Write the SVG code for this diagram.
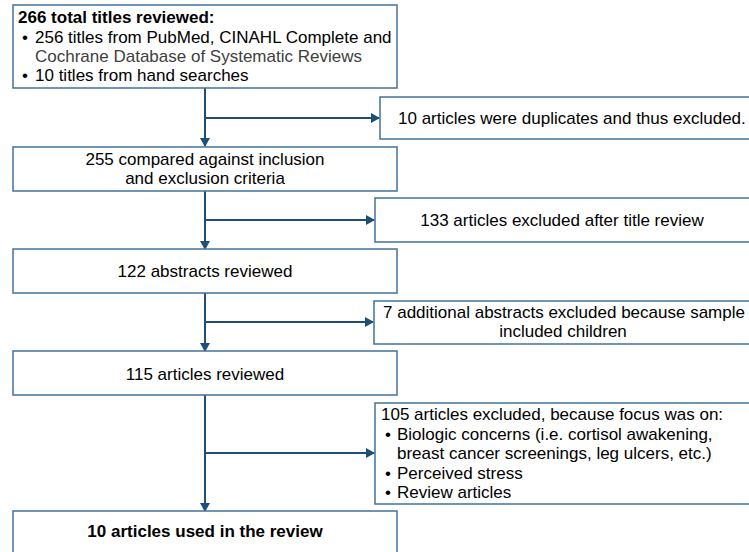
<svg xmlns="http://www.w3.org/2000/svg" width="749" height="552" viewBox="0 0 749 552">
<defs>
<style>
.box{fill:#ffffff;stroke:#41719c;stroke-width:1.5}
.t{font-family:"Liberation Sans",Arial,sans-serif;font-size:17px;fill:#000}
.c{text-anchor:middle}
.b{font-weight:bold}
.g{fill:#404040}
.con{stroke:#1f4e79;stroke-width:2;fill:none}
</style>
<marker id="ah" markerWidth="10" markerHeight="10" refX="8" refY="5" orient="auto" markerUnits="userSpaceOnUse">
<path d="M0,0 L9,5 L0,10 Z" fill="#1f4e79"/>
</marker>
</defs>
<rect width="749" height="552" fill="#ffffff"/>
<g id="connectors">
<line class="con" x1="205" y1="88" x2="205" y2="146" marker-end="url(#ah)"/>
<line class="con" x1="205" y1="118" x2="379" y2="118" marker-end="url(#ah)"/>
<line class="con" x1="205" y1="191" x2="205" y2="249" marker-end="url(#ah)"/>
<line class="con" x1="205" y1="220" x2="374" y2="220" marker-end="url(#ah)"/>
<line class="con" x1="205" y1="293" x2="205" y2="351" marker-end="url(#ah)"/>
<line class="con" x1="205" y1="322" x2="373" y2="322" marker-end="url(#ah)"/>
<line class="con" x1="205" y1="395" x2="205" y2="511" marker-end="url(#ah)"/>
<line class="con" x1="205" y1="453" x2="374" y2="453" marker-end="url(#ah)"/>
</g>
<g id="n1">
<rect class="box" x="13" y="5" width="384" height="83"/>
<text class="t b" x="18" y="23">266 total titles reviewed:</text>
<text class="t" x="22" y="43">•<tspan x="35">256 titles from PubMed, CINAHL Complete and</tspan></text>
<text class="t g" x="35" y="62">Cochrane Database of Systematic Reviews</text>
<text class="t" x="22" y="81">•<tspan x="35">10 titles from hand searches</tspan></text>
</g>
<g id="n2">
<rect class="box" x="380" y="97" width="390" height="42"/>
<text class="t" x="398" y="124">10 articles were duplicates and thus excluded.</text>
</g>
<g id="n3">
<rect class="box" x="13" y="147" width="384" height="44"/>
<text class="t c" x="205" y="165">255 compared against inclusion</text>
<text class="t c" x="205" y="184">and exclusion criteria</text>
</g>
<g id="n4">
<rect class="box" x="375" y="198" width="390" height="44"/>
<text class="t c" x="562" y="226">133 articles excluded after title review</text>
</g>
<g id="n5">
<rect class="box" x="13" y="249" width="384" height="44"/>
<text class="t c" x="205" y="277">122 abstracts reviewed</text>
</g>
<g id="n6">
<rect class="box" x="374" y="301" width="390" height="43"/>
<text class="t" x="383" y="318">7 additional abstracts excluded because sample</text>
<text class="t c" x="563" y="337">included children</text>
</g>
<g id="n7">
<rect class="box" x="13" y="351" width="384" height="44"/>
<text class="t c" x="205" y="380">115 articles reviewed</text>
</g>
<g id="n8">
<rect class="box" x="375" y="403" width="390" height="101"/>
<text class="t" x="381" y="420">105 articles excluded, because focus was on:</text>
<text class="t" x="385" y="440">•<tspan x="397">Biologic concerns (i.e. cortisol awakening,</tspan></text>
<text class="t" x="397" y="459">breast cancer screenings, leg ulcers, etc.)</text>
<text class="t" x="385" y="479">•<tspan x="397">Perceived stress</tspan></text>
<text class="t" x="385" y="498">•<tspan x="397">Review articles</tspan></text>
</g>
<g id="n9">
<rect class="box" x="13" y="511" width="384" height="50"/>
<text class="t c b" x="205" y="537">10 articles used in the review</text>
</g>
</svg>
